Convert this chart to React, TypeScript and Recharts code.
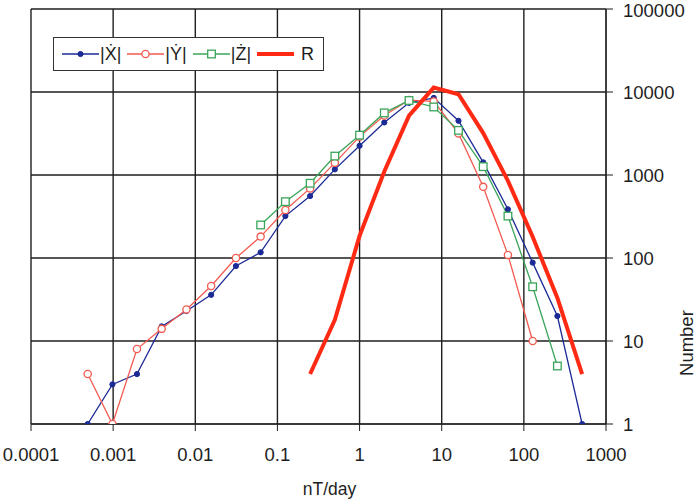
import React from "react";
import { LineChart, Line, XAxis, YAxis, CartesianGrid, Legend } from "recharts";

// rate bins (nT/day), powers of two
const bins = [
  0.00049, 0.00098, 0.00195, 0.0039, 0.0078, 0.0156, 0.03125, 0.0625, 0.125,
  0.25, 0.5, 1, 2, 4, 8, 16, 32, 64, 128, 256, 512,
];

// counts per bin, each series starts at a given bin index
const xDotCounts = [1, 3, 4, 15, 23, 36, 80, 117, 320, 558, 1170, 2250, 4300, 7400, 8500, 4500, 1420, 386, 88, 20, 1];
const yDotCounts = [4, 1, 8, 14, 24, 46, 100, 181, 379, 690, 1400, 2900, 5200, 8000, 7700, 3170, 720, 109, 10];
const zDotCounts = [250, 477, 795, 1690, 3020, 5600, 7900, 6600, 3450, 1260, 320, 45, 5];
const rCounts = [4, 18, 185, 1100, 5200, 11300, 9400, 3200, 850, 180, 33, 4];

const xTicks = [0.0001, 0.001, 0.01, 0.1, 1, 10, 100, 1000];
const yTicks = [1, 10, 100, 1000, 10000, 100000];

const toPoints = (start: number, counts: number[]) =>
  counts.map((n, i) => ({ rate: bins[start + i], n }));

const FONT = "'Liberation Sans', Arial, Helvetica, sans-serif";
const INK = "#1e1e1e";

const series = [
  { key: "x", label: "|Ẋ|", color: "#1c2a96", width: 1.3, data: toPoints(0, xDotCounts), marker: "dot" },
  { key: "y", label: "|Ẏ|", color: "#f25a50", width: 1.3, data: toPoints(0, yDotCounts), marker: "circle" },
  { key: "z", label: "|Ż|", color: "#3aa55a", width: 1.3, data: toPoints(7, zDotCounts), marker: "square" },
  { key: "r", label: "R", color: "#ff2a14", width: 4, data: toPoints(9, rCounts), marker: "none" },
];

function marker(kind: string, color: string, cx: number, cy: number, key?: any) {
  if (kind === "dot") return <circle key={key} cx={cx} cy={cy} r={2.6} fill={color} stroke={color} strokeWidth={1} />;
  if (kind === "circle") return <circle key={key} cx={cx} cy={cy} r={3.6} fill="#fff" stroke={color} strokeWidth={1.3} />;
  if (kind === "square")
    return <rect key={key} x={cx - 3.8} y={cy - 3.8} width={7.6} height={7.6} fill="#fff" stroke={color} strokeWidth={1.3} />;
  return <g key={key} />;
}

function LegendBox() {
  return (
    <div
      style={{
        display: "flex",
        alignItems: "center",
        border: `1.5px solid #333`,
        background: "#fff",
        padding: "0 9px 0 8px",
        height: 34,
        fontFamily: FONT,
        fontSize: 18,
        color: INK,
        boxSizing: "border-box",
      }}
    >
      {series.map((s, i) => (
        <div key={s.key} style={{ display: "flex", alignItems: "center", marginLeft: i === 0 ? 0 : 6 }}>
          <svg width={37} height={20}>
            <line x1={0} y1={10} x2={37} y2={10} stroke={s.color} strokeWidth={s.width} />
            {marker(s.marker, s.color, 18.5, 10)}
          </svg>
          <span style={{ marginLeft: s.key === "r" ? 7 : 1, lineHeight: "20px" }}>{s.label}</span>
        </div>
      ))}
    </div>
  );
}

export default function App() {
  return (
    <div style={{ position: "absolute", left: 0, top: 0, width: 698, height: 499, background: "#fff" }}>
      <LineChart width={698} height={499} margin={{ top: 9, right: 0, left: 31, bottom: 0 }} style={{ fontFamily: FONT }}>
        <CartesianGrid stroke={INK} strokeWidth={1.4} />
        <XAxis
          dataKey="rate"
          type="number"
          scale="log"
          domain={[0.0001, 1000]}
          ticks={xTicks}
          allowDataOverflow
          height={75}
          tickSize={7}
          tickMargin={17}
          stroke={INK}
          tick={{ fill: INK, fontSize: 18.5 }}
          label={(props: any) => {
            const vb = props.viewBox;
            return (
              <text x={vb.x + vb.width / 2 + 11} y={vb.y + vb.height - 4} textAnchor="middle" fontSize={17.5} fill={INK}>
                nT/day
              </text>
            );
          }}
        />
        <YAxis
          dataKey="n"
          type="number"
          scale="log"
          orientation="right"
          domain={[1, 100000]}
          ticks={yTicks}
          allowDataOverflow
          width={92}
          tickSize={7}
          tickMargin={10}
          stroke={INK}
          tick={{ fill: INK, fontSize: 18.5, textAnchor: "start" }}
          label={(props: any) => {
            const vb = props.viewBox;
            const x = vb.x + 81;
            const y = vb.y + vb.height * 0.805;
            return (
              <text x={x} y={y} transform={`rotate(-90, ${x}, ${y})`} textAnchor="middle" dominantBaseline="central" fontSize={18.5} fill={INK}>
                Number
              </text>
            );
          }}
        />
        <Legend
          layout="vertical"
          align="center"
          verticalAlign="middle"
          wrapperStyle={{ left: 53, top: 37, width: "auto" }}
          content={() => <LegendBox />}
        />
        {series.map((s) => (
          <Line
            key={s.key}
            data={s.data}
            dataKey="n"
            type="linear"
            stroke={s.color}
            strokeWidth={s.width}
            isAnimationActive={false}
            dot={
              s.marker === "none"
                ? false
                : (p: any) => marker(s.marker, s.color, p.cx, p.cy, `${s.key}-${p.index}`)
            }
            activeDot={false}
          />
        ))}
      </LineChart>
    </div>
  );
}
